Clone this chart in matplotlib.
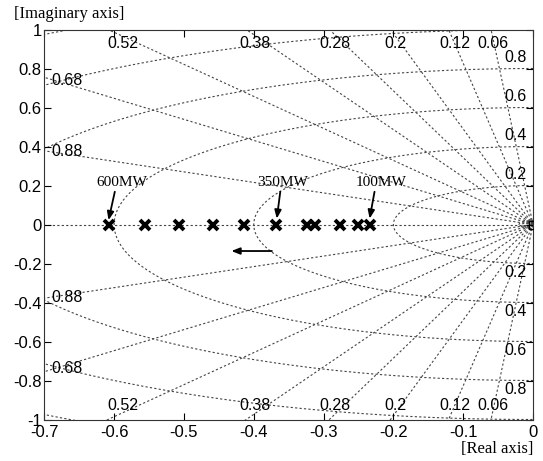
import numpy as np
import matplotlib
matplotlib.use("Agg")
import matplotlib.pyplot as plt

# ---- data ----
pole_real = [-0.607, -0.556, -0.507, -0.458, -0.414, -0.368, -0.323, -0.3125, -0.277, -0.251, -0.234]
pole_imag = [0, 0, 0, 0, 0, 0, 0, 0, 0, 0, 0]
zero_real = [0.0]
zero_imag = [0.0]
zeta_values = [0.06, 0.12, 0.2, 0.28, 0.38, 0.52, 0.68, 0.88]
wn_values = [0.2, 0.4, 0.6, 0.8, 1.0, 1.2]
wn_small = [0.005, 0.01, 0.015, 0.02]
wn_labels = [0.2, 0.4, 0.6, 0.8]
zeta_top_labels = ["0.52", "0.38", "0.28", "0.2", "0.12", "0.06"]
zeta_top_x = [-0.587, -0.398, -0.283, -0.197, -0.112, -0.058]
zeta_left_labels = ["0.68", "0.88"]
zeta_left_y = [0.741, 0.373]
annot_text = ["600MW", "350MW", "100MW"]
annot_text_xy = [(-0.589, 0.213), (-0.358, 0.214), (-0.218, 0.217)]
annot_tail = [(-0.599, 0.168), (-0.362, 0.168), (-0.227, 0.168)]
annot_head = [(-0.608, 0.022), (-0.367, 0.030), (-0.234, 0.030)]
move_arrow_from = (-0.374, -0.136)
move_arrow_to = (-0.432, -0.136)
xticks = [-0.7, -0.6, -0.5, -0.4, -0.3, -0.2, -0.1, 0]
xtick_labels = ["-0.7", "-0.6", "-0.5", "-0.4", "-0.3", "-0.2", "-0.1", "0"]
yticks = [-1, -0.8, -0.6, -0.4, -0.2, 0, 0.2, 0.4, 0.6, 0.8, 1]
ytick_labels = ["-1", "-0.8", "-0.6", "-0.4", "-0.2", "0", "0.2", "0.4", "0.6", "0.8", "1"]

W, H = 543, 461
fig = plt.figure(figsize=(W / 100, H / 100), dpi=100)
ax = fig.add_axes([44.3 / W, 1 - 419.5 / H, 488.7 / W, 390 / H])

grid_kw = dict(color="#444444", lw=0.8, ls=(0, (2, 2)), zorder=1)

# damping-ratio lines
R = 3.0
for z in zeta_values:
    th = np.arccos(z)
    ax.plot([0, -R * z], [0, R * np.sin(th)], **grid_kw)
    ax.plot([0, -R * z], [0, -R * np.sin(th)], **grid_kw)
ax.plot([-1, 0], [0, 0], **grid_kw)

# natural-frequency semicircles
t = np.linspace(np.pi / 2, 3 * np.pi / 2, 400)
for wn in wn_values + wn_small:
    ax.plot(wn * np.cos(t), wn * np.sin(t), **grid_kw)

# grid labels
lab_kw = dict(fontsize=11.5, family="Liberation Sans", ha="center", va="center", zorder=3)
for s, x in zip(zeta_top_labels, zeta_top_x):
    ax.text(x, 0.929, s, **lab_kw)
    ax.text(x, -0.926, s, **lab_kw)
for s, y in zip(zeta_left_labels, zeta_left_y):
    ax.text(-0.667, y, s, **lab_kw)
    ax.text(-0.667, -y, s, **lab_kw)
for wn in wn_labels:
    ax.text(-0.0254, wn + 0.055, f"{wn:g}", **lab_kw)
    ax.text(-0.0254, -wn - 0.047, f"{wn:g}", **lab_kw)

# poles and zero
ax.plot(pole_real, pole_imag, ls="none", marker="x", ms=6.5, mew=2.8, color="black", zorder=4)
ax.plot(zero_real, zero_imag, ls="none", marker="s", ms=6, mew=1.0, mfc="none", color="black", zorder=4)

# annotations
for s, txy, tail, head in zip(annot_text, annot_text_xy, annot_tail, annot_head):
    ax.text(txy[0], txy[1], s, fontsize=11, family="Liberation Serif", ha="center", va="center", zorder=5)
    ax.annotate("", xy=head, xytext=tail,
                arrowprops=dict(arrowstyle="-|>,head_length=0.5,head_width=0.2", color="black", lw=1.3,
                                shrinkA=0, shrinkB=0), zorder=5)
ax.annotate("", xy=move_arrow_to, xytext=move_arrow_from,
            arrowprops=dict(arrowstyle="-|>,head_length=0.5,head_width=0.2", color="black", lw=1.3,
                            shrinkA=0, shrinkB=0), zorder=5)

ax.set_xlim(-0.7, 0)
ax.set_ylim(-1, 1)
ax.set_xticks(xticks)
ax.set_xticklabels(xtick_labels)
ax.set_yticks(yticks)
ax.set_yticklabels(ytick_labels)
ax.tick_params(direction="in", length=5, width=0.8, top=True, right=True, labelsize=12)
ax.tick_params(axis="x", pad=4)
ax.tick_params(axis="y", pad=2)
for lbl in ax.get_xticklabels() + ax.get_yticklabels():
    lbl.set_family("Liberation Sans")
for sp in ax.spines.values():
    sp.set_linewidth(0.8)
    sp.set_color("#333333")

fig.text(14 / W, 1 - 14 / H, "[Imaginary axis]", fontsize=12, family="Liberation Serif", ha="left", va="center")
fig.text(533 / W, 1 - 449 / H, "[Real axis]", fontsize=12, family="Liberation Serif", ha="right", va="center")

fig.savefig("out.png", dpi=100)
